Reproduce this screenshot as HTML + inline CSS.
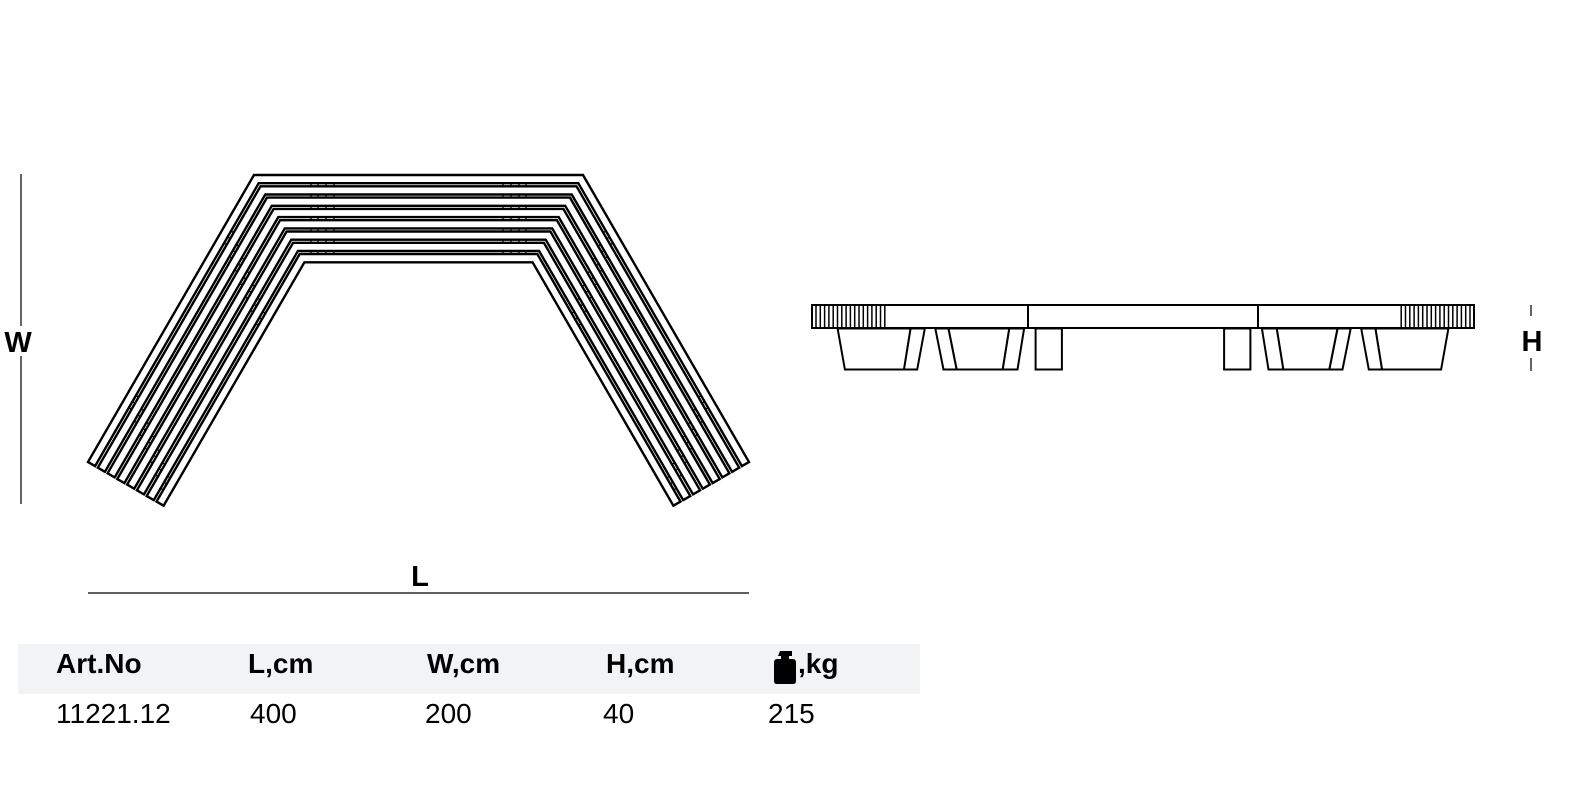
<!DOCTYPE html>
<html><head><meta charset="utf-8">
<style>
html,body{margin:0;padding:0;background:#fff;}
body{width:1595px;height:790px;position:relative;overflow:hidden;font-family:"Liberation Sans Narrow","Liberation Sans",sans-serif;}
.t{position:absolute;font-size:28px;color:#000;white-space:nowrap;}
.b{font-weight:bold;}
</style></head><body>
<svg id="s" width="1595" height="790" style="position:absolute;left:0;top:0" xmlns="http://www.w3.org/2000/svg">
<rect x="18" y="644" width="902" height="50" fill="#f2f3f5"/>
<line x1="21" y1="174" x2="21" y2="504" stroke="#000" stroke-width="1.2"/>
<rect x="8" y="326" width="26" height="30" fill="#fff"/>
<text x="18" y="352" font-family="Liberation Sans" font-weight="bold" font-size="29" text-anchor="middle">W</text>
<line x1="88" y1="593" x2="749" y2="593" stroke="#000" stroke-width="1.2"/>
<text x="420" y="586" font-family="Liberation Sans" font-weight="bold" font-size="29" text-anchor="middle">L</text>
<line x1="1531" y1="305" x2="1531" y2="316" stroke="#000" stroke-width="1.2"/>
<line x1="1531" y1="358" x2="1531" y2="371" stroke="#000" stroke-width="1.2"/>
<text x="1532" y="351" font-family="Liberation Sans" font-weight="bold" font-size="29" text-anchor="middle">H</text>
<g id="top" fill="#fff" stroke="#000" stroke-width="2.4" stroke-linejoin="miter"></g>
<g id="side" fill="#fff" stroke="#000" stroke-width="2"></g>
<path d="M780 651 h12 v5 h-3 v3 h4 q3 0 3 4 v18 q0 3 -3 3 h-16 q-3 0 -3 -3 v-18 q0 -4 3 -4 h4 v-3 h-3 z" fill="#000"/>
</svg>
<div class="t b" style="left:56px;top:648px">Art.No</div>
<div class="t b" style="left:248px;top:648px">L,cm</div>
<div class="t b" style="left:427px;top:648px">W,cm</div>
<div class="t b" style="left:606px;top:648px">H,cm</div>
<div class="t b" style="left:798px;top:648px">,kg</div>
<div class="t" style="left:56px;top:698px">11221.12</div>
<div class="t" style="left:250px;top:698px">400</div>
<div class="t" style="left:425px;top:698px">200</div>
<div class="t" style="left:603px;top:698px">40</div>
<div class="t" style="left:768px;top:698px">215</div>
<script>
(function(){
var NS="http://www.w3.org/2000/svg";
var top=document.getElementById('top'), side=document.getElementById('side');
function el(p,tag,a){var e=document.createElementNS(NS,tag);for(var k in a)e.setAttribute(k,a[k]);p.appendChild(e);return e;}
var ux=-166/331.5, uy=287/331.5;
var nx=uy, ny=-ux;
var P0=[254,175], E0=[88,462];
var cx=418.5, pitch=11.3, w=8.2;
function apex(a){var px=P0[0]+nx*a, py=P0[1]+ny*a; var Y=175+a; var t=(Y-py)/uy; return [px+ux*t, Y];}
function endpt(a){return [E0[0]+nx*a, E0[1]+ny*a];}
function pts(arr){return arr.map(function(p){return p[0].toFixed(1)+','+p[1].toFixed(1)}).join(' ');}
for(var i=0;i<8;i++){
  var a=i*pitch, b=a+w;
  var A1=apex(a), A2=apex(b), e1=endpt(a), e2=endpt(b);
  var poly=[e1,A1,[2*cx-A1[0],A1[1]],[2*cx-e1[0],e1[1]],[2*cx-e2[0],e2[1]],[2*cx-A2[0],A2[1]],A2,e2];
  el(top,'polygon',{points:pts(poly)});
}
var g=el(top,'g',{'stroke-width':'1.3'});
[311,318,326,334].forEach(function(x){
  for(var i=0;i<7;i++){var y1=175+i*pitch+w, y2=175+(i+1)*pitch;
    el(g,'line',{x1:x,y1:y1,x2:x,y2:y2});
    el(g,'line',{x1:2*cx-x,y1:y1,x2:2*cx-x,y2:y2});
  }
});
function armMarks(s0){
  for(var i=0;i<7;i++){
    var a=i*pitch+w, b=(i+1)*pitch;
    [0,7,14].forEach(function(ds){
      var s=s0+ds+i*9;
      var bx=P0[0]+ux*s, by=P0[1]+uy*s;
      var x1=bx+nx*a,y1=by+ny*a,x2=bx+nx*b,y2=by+ny*b;
      el(g,'line',{x1:x1,y1:y1,x2:x2,y2:y2});
      el(g,'line',{x1:2*cx-x1,y1:y1,x2:2*cx-x2,y2:y2});
    });
  }
}
armMarks(60); armMarks(250);
el(side,'rect',{x:812,y:305,width:662,height:23});
el(side,'line',{x1:1028,y1:305,x2:1028,y2:328});
el(side,'line',{x1:1258,y1:305,x2:1258,y2:328});
var hg=el(side,'g',{'stroke-width':'1.5'});
for(var x=816;x<=888;x+=4.3){el(hg,'line',{x1:x,y1:305,x2:x,y2:328});el(hg,'line',{x1:2286-x,y1:305,x2:2286-x,y2:328});}
function legs(m){
  function X(x){return m?2286-x:x;}
  function P(a){return a.map(function(p){return X(p[0]).toFixed(1)+','+p[1]}).join(' ');}
  var T=328.5,B=369.5;
  el(side,'polygon',{points:P([[837.6,T],[910.6,T],[904,B],[844.9,B]])});
  el(side,'polygon',{points:P([[910.6,T],[924.8,T],[917.2,B],[904,B]])});
  el(side,'polygon',{points:P([[935.3,T],[948.5,T],[956.7,B],[943.5,B]])});
  el(side,'polygon',{points:P([[948.5,T],[1009.3,T],[1002.7,B],[956.7,B]])});
  el(side,'polygon',{points:P([[1009.3,T],[1024.1,T],[1017.5,B],[1002.7,B]])});
  el(side,'polygon',{points:P([[1035.6,T],[1061.9,T],[1061.9,B],[1035.6,B]])});
}
legs(false);legs(true);
})();
</script>
</body></html>
